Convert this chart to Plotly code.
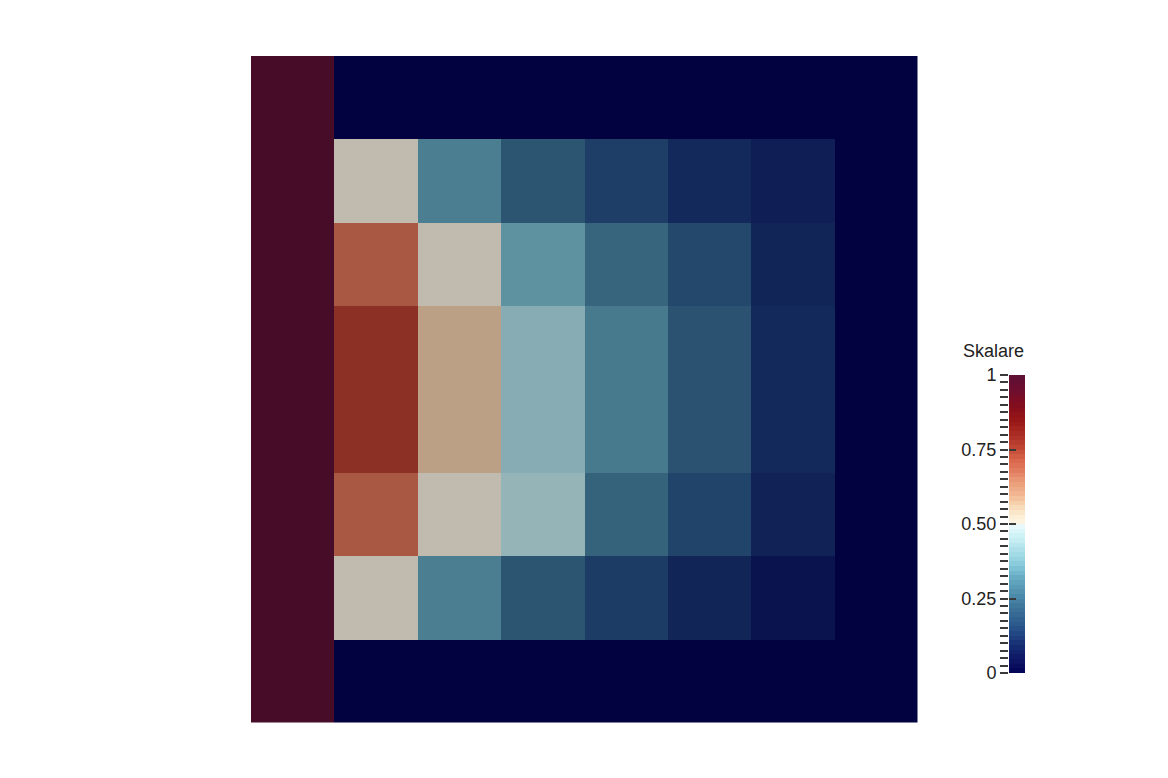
import plotly.graph_objects as go

# ---- data (cell values, rows from top to bottom) ----
col_index = [0, 1, 2, 3, 4, 5, 6, 7]
row_index = [0, 1, 2, 3, 4, 5, 6, 7]
row_0 = [1.0, 0.0, 0.0, 0.0, 0.0, 0.0, 0.0, 0.0]
row_1 = [1.0, 0.50, 0.31, 0.21, 0.15, 0.105, 0.08, 0.0]
row_2 = [1.0, 0.69, 0.50, 0.35, 0.25, 0.175, 0.095, 0.0]
row_3 = [1.0, 0.77, 0.565, 0.42, 0.30, 0.205, 0.105, 0.0]
row_4 = [1.0, 0.77, 0.565, 0.42, 0.30, 0.205, 0.105, 0.0]
row_5 = [1.0, 0.69, 0.50, 0.445, 0.245, 0.165, 0.09, 0.0]
row_6 = [1.0, 0.50, 0.31, 0.21, 0.145, 0.095, 0.05, 0.0]
row_7 = [1.0, 0.0, 0.0, 0.0, 0.0, 0.0, 0.0, 0.0]
z = [row_0, row_1, row_2, row_3, row_4, row_5, row_6, row_7]

bar_title = "Skalare"
major_ticks = [0, 0.25, 0.5, 0.75, 1]
major_labels = ["0", "0.25", "0.50", "0.75", "1"]
n_bands = 64
band_values = [(i + 0.5) / n_bands for i in range(n_bands)]

# ---- colormap (Cool to Warm, extended) ----
cmap_pos = [0, 0.03125, 0.0625, 0.09375, 0.125, 0.15625, 0.1875, 0.21875, 0.25,
            0.28125, 0.3125, 0.34375, 0.375, 0.40625, 0.4375, 0.46875, 0.499,
            0.5, 0.52, 0.54, 0.5625, 0.59375, 0.625, 0.65625, 0.6875, 0.71875,
            0.75, 0.78125, 0.8125, 0.84375, 0.875, 0.90625, 0.9375, 0.96875, 1]
cmap_rgb = [(2, 2, 86), (10, 16, 97), (16, 30, 105), (23, 47, 115), (32, 67, 128),
            (41, 86, 138), (51, 101, 145), (61, 116, 153), (73, 133, 166),
            (86, 151, 179), (99, 167, 191), (119, 188, 209), (146, 209, 224),
            (167, 221, 232), (192, 234, 240), (210, 244, 247), (240, 251, 252),
            (252, 245, 230), (252, 241, 217), (250, 229, 200), (247, 213, 178),
            (242, 187, 150), (237, 166, 130), (232, 144, 111), (224, 117, 90),
            (214, 99, 73), (194, 75, 54), (179, 54, 43), (166, 40, 33),
            (153, 24, 24), (140, 17, 25), (128, 13, 32), (115, 14, 44),
            (102, 14, 49), (94, 16, 52)]

shade = 0.76


def scale(factor):
    return [[p, "rgb(%d,%d,%d)" % tuple(min(255, round(c * factor)) for c in rgb)]
            for p, rgb in zip(cmap_pos, cmap_rgb)]


W, H = 1168, 778
OX, OY = 8, 8  # page body offset


def px_x(x):
    return (x - OX) / W


def px_y(y):
    return (H - (y - OY)) / H


fig = go.Figure()

fig.add_trace(go.Heatmap(
    z=z, x=col_index, y=row_index, zmin=0, zmax=1,
    colorscale=scale(shade), showscale=False, xgap=0, ygap=0,
    hoverinfo="z", xaxis="x", yaxis="y"))

fig.add_trace(go.Heatmap(
    z=[[v] for v in band_values], x=[0], y=band_values, zmin=0, zmax=1,
    colorscale=scale(1.0), showscale=False, hoverinfo="skip",
    xaxis="x2", yaxis="y2"))

hidden = dict(showgrid=False, zeroline=False, showticklabels=False, ticks="",
              showline=False, automargin=False)
tick_font = dict(family="Liberation Sans, Arial, sans-serif", size=18, color="#222222")

fig.update_layout(
    width=W, height=H,
    margin=dict(l=0, r=0, t=0, b=0, pad=0, autoexpand=False),
    paper_bgcolor="white", plot_bgcolor="white",
    showlegend=False,
    xaxis=dict(domain=[px_x(251), px_x(917.5)], range=[-0.5, 7.5], **hidden),
    yaxis=dict(domain=[px_y(722.5), px_y(56)], range=[7.5, -0.5], **hidden),
    xaxis2=dict(domain=[px_x(1009), px_x(1025)], range=[-0.5, 0.5], anchor="y2", **hidden),
    yaxis2=dict(domain=[px_y(673), px_y(375)], range=[0, 1], anchor="x2",
                side="left", showgrid=False, zeroline=False, showline=False,
                automargin=False,
                ticks="outside", ticklen=8, tickwidth=1.5, tickcolor="#3a3a3a",
                tickvals=major_ticks, ticktext=major_labels, tickfont=tick_font,
                minor=dict(tickvals=[i / 40 for i in range(41)], ticks="outside",
                           ticklen=8, tickwidth=1.5, tickcolor="#3a3a3a")),
    yaxis3=dict(range=[0, 1], overlaying="y2", anchor="x2", side="left",
                showgrid=False, zeroline=False, showline=False, showticklabels=False,
                automargin=False,
                ticks="inside", ticklen=7, tickwidth=1.5, tickcolor="#3a3a3a",
                tickvals=major_ticks),
    annotations=[dict(text=bar_title, xref="paper", yref="paper",
                      x=px_x(1026), y=px_y(351), xanchor="right", yanchor="middle",
                      showarrow=False, font=tick_font)],
)

# invisible trace to activate yaxis3
fig.add_trace(go.Scatter(x=[0], y=[0.5], mode="markers", marker=dict(opacity=0),
                         hoverinfo="skip", xaxis="x2", yaxis="y3"))

fig.write_html("out.html")
